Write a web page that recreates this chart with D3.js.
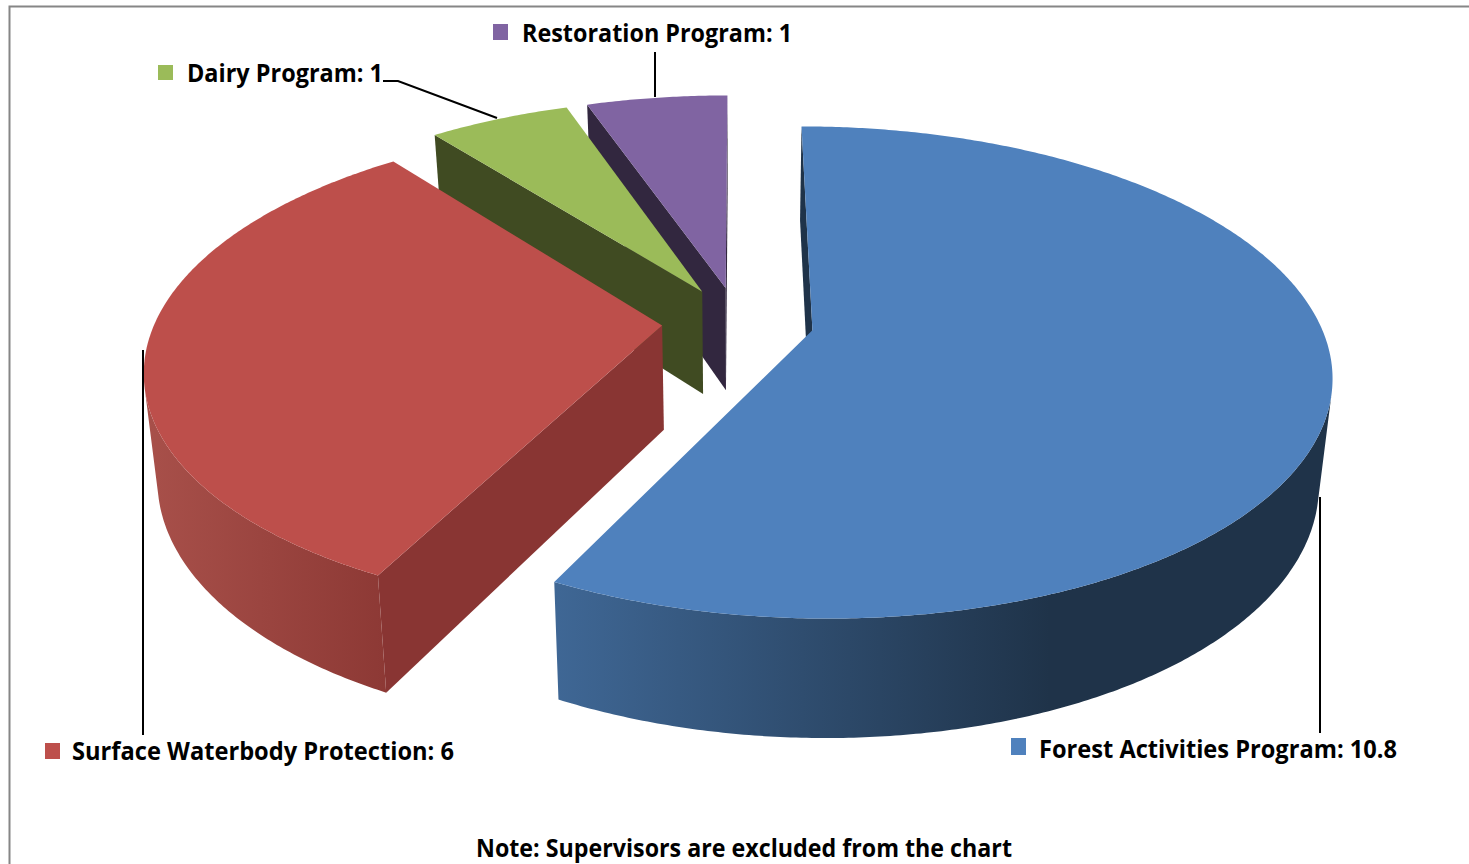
<!DOCTYPE html>
<html><head><meta charset="utf-8">
<script src="https://d3js.org/d3.v7.min.js"></script>
<style>html,body{margin:0;padding:0;background:#fff;overflow:hidden}svg{display:block}
text{font-family:"Open Sans","Noto Sans",sans-serif;font-weight:700;fill:#000}</style>
</head><body><svg id="c" width="1469" height="864"></svg>
<script>
const categories = ["Forest Activities Program","Surface Waterbody Protection","Dairy Program","Restoration Program"];
const values = [10.8,6,1,1];
const topColors = ["#4f81bd","#bd4f4b","#9bbb59","#8064a2"];
const wallColors = [["#3f6795","#1f3349"],["#a8504a","#8d3935"],["#404b22","#404b22"],["#32273f","#32273f"]];
const sideColors = ["#1f3349","#893533","#404b22","#32273f"];
const noteText = "Note: Supervisors are excluded from the chart";

const W=1469,H=864;
const svg=d3.select("#c");
const defs=svg.append("defs");
// plane projection
const persp=.1706, explode=.15, shrink=.023, depth=104;
const sx=d3.scaleLinear().domain([-1,1]).range([738-507,738+507]);
const sy=d3.scaleLinear().domain([-1,1]).range([322+236,322-236]);
function project(u,v,z){
  const w=1+persp*v, k=1-shrink*z;
  const x0=sx(0), y0=sy(0);
  return [x0+(sx(u/w)-x0)*k, y0+(sy(v/w)-y0)*k+depth*z/w];
}
const pie=d3.pie().sort(null).startAngle(0).endAngle(2*Math.PI);
const arcs=pie(values);
const area=p=>d3.sum(p,(a,i)=>{const b=p[(i+1)%p.length];return a[0]*b[1]-b[0]*a[1]});
const line=d3.line();

[3,2,1,0].forEach(i=>{
  const d=arcs[i], mid=(d.startAngle+d.endAngle)/2;
  const du=explode*Math.sin(mid), dv=explode*Math.cos(mid);
  const rim=(t,z)=>project(du+Math.sin(t),dv+Math.cos(t),z);
  const apex=z=>project(du,dv,z);
  const g=svg.append("g").attr("class","slice");
  const n=Math.ceil((d.endAngle-d.startAngle)*180/Math.PI*2);
  const ts=d3.range(n+1).map(k=>d.startAngle+(d.endAngle-d.startAngle)*k/n);
  // radial walls
  [[apex(0),rim(d.startAngle,0),rim(d.startAngle,1),apex(1)],
   [rim(d.endAngle,0),apex(0),apex(1),rim(d.endAngle,1)]].forEach(q=>{
    if(area(q)<0) g.append("path").attr("d",line(q)+"Z").attr("fill",sideColors[i]);
  });
  // outer wall
  const vis=[];
  for(let k=0;k<n;k++){
    const q=[rim(ts[k],0),rim(ts[k+1],0),rim(ts[k+1],1),rim(ts[k],1)];
    if(area(q)<0) vis.push(k);
  }
  if(vis.length){
    const id="wall"+i;
    const lg=defs.append("linearGradient").attr("id",id).attr("gradientUnits","userSpaceOnUse")
      .attr("x1",i==0?555:146).attr("x2",i==0?1050:385).attr("y1",0).attr("y2",0);
    lg.append("stop").attr("offset",0).attr("stop-color",wallColors[i][0]);
    lg.append("stop").attr("offset",1).attr("stop-color",wallColors[i][1]);
    const a=d3.min(vis),b=d3.max(vis)+1;
    const tops=d3.range(a,b+1).map(k=>rim(ts[k],0));
    const bots=d3.range(b,a-1,-1).map(k=>rim(ts[k],1));
    g.append("path").attr("d",line(tops.concat(bots))+"Z").attr("fill",`url(#${id})`);
  }
  // top face
  const top=[apex(0)].concat(ts.map(t=>rim(t,0)));
  g.append("path").attr("d",line(top)+"Z").attr("fill",topColors[i]);
});

// frame
svg.append("path").attr("d","M9.5,864V6.5H1469").attr("fill","none").attr("stroke","#868686").attr("stroke-width",2);

// leader lines
const leaders=[
 [[1320,497],[1320,733]],
 [[143,350],[143,735]],
 [[383,81],[398,81],[497,118]],
 [[655,52],[655,97]]
];
leaders.forEach(l=>svg.append("path").attr("d",line(l)).attr("fill","none").attr("stroke","#000").attr("stroke-width",2));

// labels
const labelLayout=[
 {key:[1011,738,15,17],x:1039,y:758,w:358},
 {key:[45,743,15,16],x:72,y:760,w:382},
 {key:[158,65,15,15],x:187,y:82,w:196},
 {key:[493,24,15,16],x:522,y:42,w:270}
];
labelLayout.forEach((l,i)=>{
  svg.append("rect").attr("x",l.key[0]).attr("y",l.key[1]).attr("width",l.key[2]).attr("height",l.key[3]).attr("fill",topColors[i]);
  svg.append("text").attr("x",l.x).attr("y",l.y).attr("font-size",24.5)
    .attr("textLength",l.w).attr("lengthAdjust","spacingAndGlyphs")
    .text(categories[i]+": "+values[i]);
});
svg.append("text").attr("x",476).attr("y",857).attr("font-size",24.5)
  .attr("textLength",536).attr("lengthAdjust","spacingAndGlyphs").text(noteText);
</script></body></html>
